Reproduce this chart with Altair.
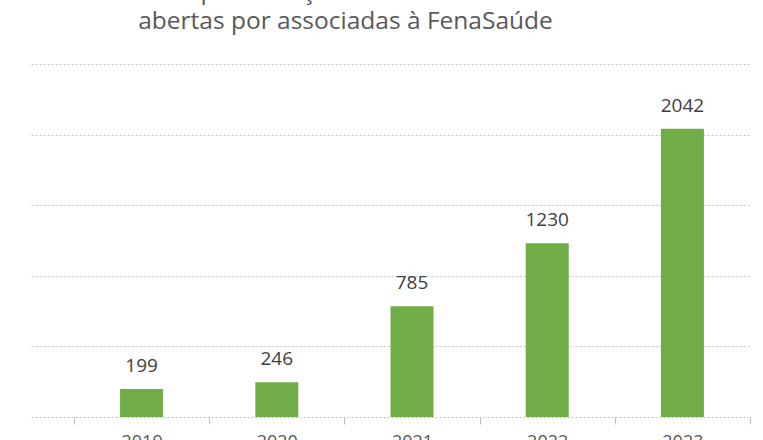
import altair as alt
import pandas as pd

years = ["2019", "2020", "2021", "2022", "2023"]
values = [199, 246, 785, 1230, 2042]
title_lines = ["Número de representações criminais e notícias-crime",
               "abertas por associadas à FenaSaúde"]

df = pd.DataFrame({"ano": years, "valor": values})

FONT = "Open Sans"

base = alt.Chart(df).encode(
    x=alt.X("ano:N", sort=years, title=None,
            scale=alt.Scale(paddingInner=0, paddingOuter=0.159, align=1),
            axis=alt.Axis(labelAngle=0, domain=False, tickBand="extent",
                          tickColor="#bfbfbf", tickSize=7, labelPadding=9,
                          labelFont=FONT, labelFontSize=18, labelColor="#595959",
                          grid=False)),
    y=alt.Y("valor:Q", title=None,
            scale=alt.Scale(domain=[0, 2500], nice=False),
            axis=alt.Axis(values=[0, 500, 1000, 1500, 2000, 2500], labels=False,
                          ticks=False, domain=False, grid=True,
                          gridColor="#c0c0c0", gridDash=[2, 2], gridWidth=1)),
)

bars = base.mark_bar(size=43, color="#70AD47")
labels = base.mark_text(baseline="alphabetic", dy=-17, font=FONT,
                        fontSize=19, color="#404040").encode(text="valor:Q")

chart = (bars + labels).properties(
    width=719, height=353,
    background="white",
    title=alt.Title(text=title_lines, anchor="middle", dx=-45, offset=30,
                    font=FONT, fontSize=24.5, fontWeight="normal",
                    color="#595959", lineHeight=30),
    padding={"left": 31, "top": 64, "right": 13, "bottom": 23},
    autosize=alt.AutoSizeParams(type="none"),
).configure_view(stroke="transparent", strokeWidth=0)

chart.save("out.html", embed_options={"renderer": "svg", "actions": False})
